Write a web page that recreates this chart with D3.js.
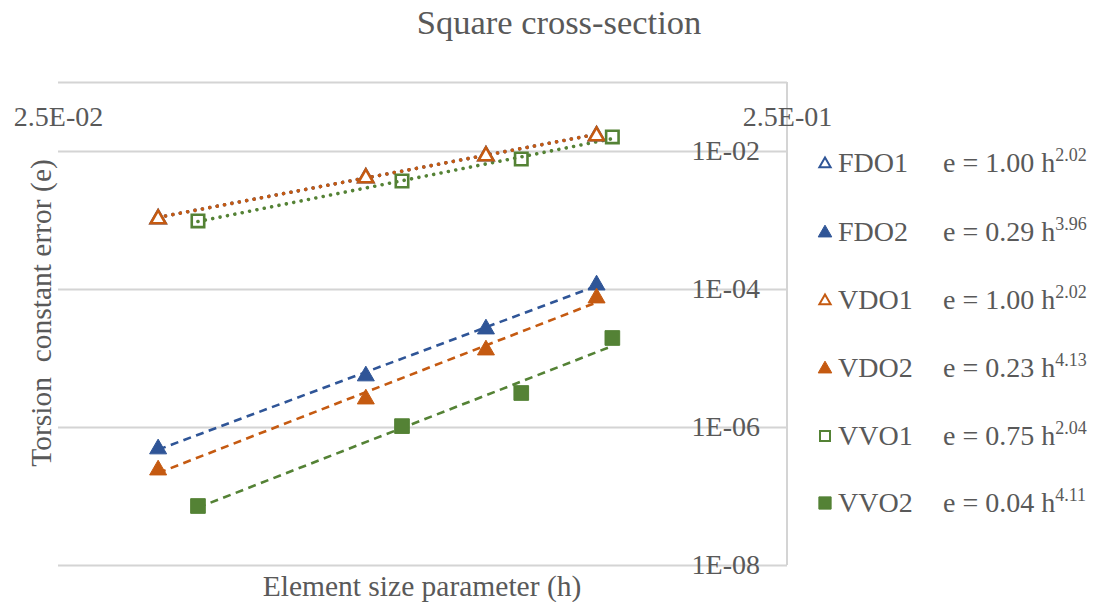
<!DOCTYPE html>
<html>
<head>
<meta charset="utf-8">
<script src="https://cdn.jsdelivr.net/npm/d3@7"></script>
<style>
  html, body { margin: 0; padding: 0; background: #fff; }
  svg { display: block; font-family: "Liberation Serif", "Times New Roman", serif; }
</style>
</head>
<body>
<svg id="chart" width="1100" height="602"></svg>
<script>
// ---- data ----
const seriesNames = ["FDO1", "FDO2", "VDO1", "VDO2", "VVO1", "VVO2"];
const hFD = [0.0343, 0.0661, 0.0966, 0.137];      // FDO / VDO element sizes
const hVV = [0.0389, 0.0741, 0.108, 0.144];       // VVO element sizes
const eFDO1 = [1.07e-3, 4.20e-3, 8.75e-3, 1.71e-2];
const eFDO2 = [4.97e-7, 5.68e-6, 2.72e-5, 1.18e-4];
const eVDO1 = [1.07e-3, 4.20e-3, 8.75e-3, 1.71e-2];
const eVDO2 = [2.46e-7, 2.63e-6, 1.35e-5, 7.66e-5];
const eVVO1 = [9.69e-4, 3.67e-3, 7.65e-3, 1.60e-2];
const eVVO2 = [7.16e-8, 1.03e-6, 3.11e-6, 1.95e-5];
const coefLabels = ["1.00", "0.29", "1.00", "0.23", "0.75", "0.04"];
const expLabels = ["2.02", "3.96", "2.02", "4.13", "2.04", "4.11"];
const yTickValues = [1e-8, 1e-6, 1e-4, 1e-2];
const yTickLabels = ["1E-08", "1E-06", "1E-04", "1E-02"];
const xTickValues = [0.025, 0.25];
const xTickLabels = ["2.5E-02", "2.5E-01"];

(function () {
// ---- style ----
const BLUE = "#2f5597", ORANGE = "#c55a11", GREEN = "#548235";
const TEXT = "#595959", GRID = "#d4d4d4";
const styles = [
  {color: BLUE, shape: "tri", filled: false, dash: "dot"},
  {color: BLUE, shape: "tri", filled: true, dash: "dash"},
  {color: ORANGE, shape: "tri", filled: false, dash: "dot"},
  {color: ORANGE, shape: "tri", filled: true, dash: "dash"},
  {color: GREEN, shape: "sq", filled: false, dash: "dot"},
  {color: GREEN, shape: "sq", filled: true, dash: "dash"}
];
const xsList = [hFD, hFD, hFD, hFD, hVV, hVV];
const ysList = [eFDO1, eFDO2, eVDO1, eVDO2, eVVO1, eVVO2];

const series = seriesNames.map((name, i) => ({
  name, style: styles[i],
  points: xsList[i].map((h, j) => ({h, e: ysList[i][j]}))
}));

const svg = d3.select("#chart");
const pL = 58, pR = 787, pT = 82, pB = 565;

const x = d3.scaleLog().domain([0.025, 0.25]).range([pL, pR]);
const y = d3.scaleLog().domain([1e-8, 1e-1]).range([pB, pT]);

// gridlines
const gridAxis = d3.axisLeft(y).tickValues(yTickValues.concat([1e-1])).tickSize(pR - pL).tickFormat("");
const gG = svg.append("g").attr("transform", `translate(${pR},0)`).call(gridAxis);
gG.select(".domain").remove();
gG.selectAll("line").attr("stroke", GRID).attr("stroke-width", 2);

// right border / axis line
svg.append("line").attr("x1", pR).attr("x2", pR).attr("y1", pT).attr("y2", pB)
  .attr("stroke", GRID).attr("stroke-width", 2);

// y tick labels
const yAxis = d3.axisLeft(y).tickValues(yTickValues).tickSize(0).tickPadding(27)
  .tickFormat((d, i) => yTickLabels[i]);
const yG = svg.append("g").attr("transform", `translate(${pR},0)`).call(yAxis);
yG.select(".domain").remove();
yG.selectAll("text").attr("fill", TEXT).style("font-size", "28px")
  .style("font-family", "'Liberation Serif', serif");

// x tick labels
const xAxis = d3.axisBottom(x).tickValues(xTickValues).tickSize(0).tickPadding(24)
  .tickFormat((d, i) => xTickLabels[i]);
const xG = svg.append("g").attr("transform", `translate(0,${pT})`).call(xAxis);
xG.select(".domain").remove();
xG.selectAll("text").attr("fill", TEXT).style("font-size", "28px")
  .style("font-family", "'Liberation Serif', serif");

// trendlines (power fit by least squares in log-log space)
function powerFit(pts) {
  const lx = pts.map(p => Math.log(p.h)), ly = pts.map(p => Math.log(p.e));
  const mx = d3.mean(lx), my = d3.mean(ly);
  const b = d3.sum(lx.map((v, i) => (v - mx) * (ly[i] - my))) / d3.sum(lx.map(v => (v - mx) ** 2));
  const a = Math.exp(my - b * mx);
  return h => a * Math.pow(h, b);
}
const line = d3.line().x(d => x(d.h)).y(d => y(d.e));
series.forEach(s => {
  const f = powerFit(s.points);
  const ext = d3.extent(s.points, p => p.h);
  const tl = ext.map(h => ({h, e: f(h)}));
  svg.append("path").attr("d", line(tl)).attr("fill", "none")
    .attr("stroke", s.style.color)
    .attr("stroke-width", s.style.dash === "dot" ? 3.6 : 2.6)
    .attr("stroke-linecap", s.style.dash === "dot" ? "round" : "butt")
    .attr("stroke-dasharray", s.style.dash === "dot" ? "0.01 7.5" : "8 5.5");
});

// markers
function symbolPath(shape, size) {
  return d3.symbol().type(shape === "tri" ? d3.symbolTriangle : d3.symbolSquare).size(size)();
}
series.forEach(s => {
  const st = s.style;
  const size = st.shape === "tri" ? (st.filled ? 125 : 95) : (st.filled ? 215 : 155);
  svg.append("g").selectAll("path").data(s.points).join("path")
    .attr("transform", d => `translate(${x(d.h)},${y(d.e) + (st.shape === "tri" ? 1 : 0)})`)
    .attr("d", symbolPath(st.shape, size))
    .attr("fill", st.filled ? st.color : (st.shape === "tri" ? "#fff" : "none"))
    .attr("stroke", st.color)
    .attr("stroke-width", st.filled ? 1 : 2.6);
});

// title
svg.append("text").attr("x", 559).attr("y", 34).attr("text-anchor", "middle")
  .attr("fill", TEXT).style("font-size", "34.5px").text("Square cross-section");

// axis titles
svg.append("text").attr("x", 422).attr("y", 596).attr("text-anchor", "middle")
  .attr("fill", TEXT).style("font-size", "29.5px").text("Element size parameter (h)");
svg.append("text").attr("transform", "translate(51,313) rotate(-90)").attr("text-anchor", "middle")
  .attr("fill", TEXT).style("font-size", "29.5px").style("white-space", "pre")
  .text("Torsion  constant error (e)");

// legend
const legRowY = [163, 232, 300, 368, 436, 503];
const leg = svg.append("g");
series.forEach((s, i) => {
  const st = s.style;
  const g = leg.append("g").attr("transform", `translate(0,${legRowY[i]})`);
  const size = st.shape === "tri" ? (st.filled ? 80 : 55) : (st.filled ? 150 : 100);
  g.append("path").attr("transform", `translate(825,${st.shape === "tri" ? 1 : 0})`)
    .attr("d", symbolPath(st.shape, size))
    .attr("fill", st.filled ? st.color : "#fff")
    .attr("stroke", st.color).attr("stroke-width", st.filled ? 1 : 2);
  g.append("text").attr("x", 838).attr("y", 9).attr("fill", TEXT)
    .style("font-size", "28px").text(s.name);
  const eq = g.append("text").attr("x", 943).attr("y", 9).attr("fill", TEXT)
    .style("font-size", "28px");
  eq.append("tspan").text(`e = ${coefLabels[i]} h`);
  eq.append("tspan").attr("dy", -11).style("font-size", "18px").text(expLabels[i]);
});
})();
</script>
</body>
</html>
